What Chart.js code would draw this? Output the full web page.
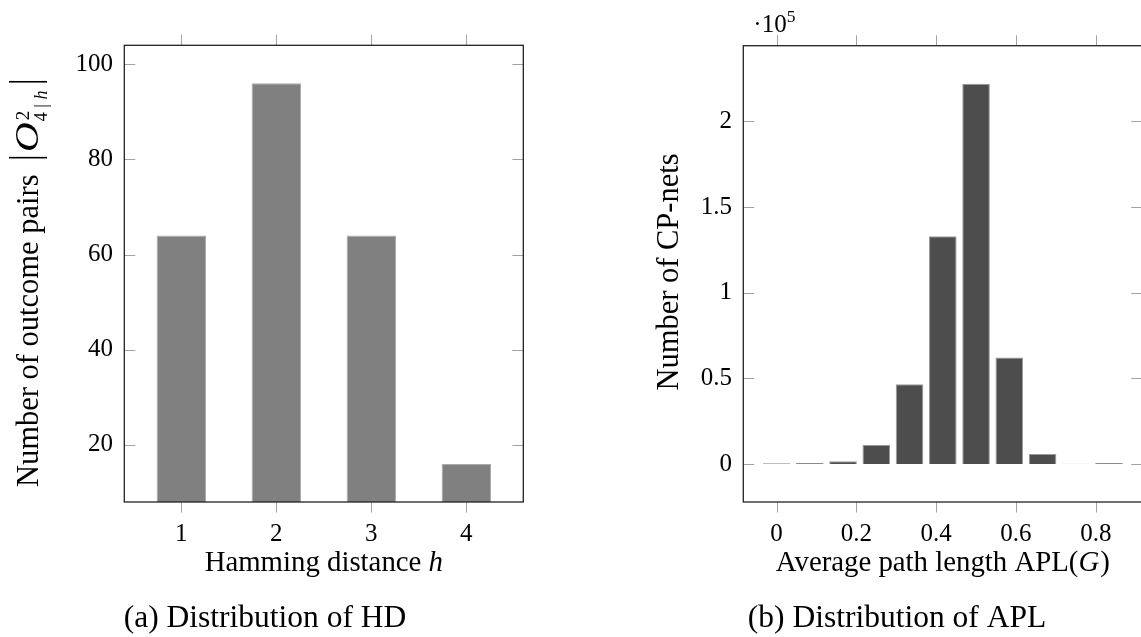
<!DOCTYPE html>
<html>
<head>
<meta charset="utf-8">
<script src="https://cdn.jsdelivr.net/npm/chart.js@4.4.1/dist/chart.umd.min.js"></script>
<style>
  html, body { margin: 0; padding: 0; overflow: hidden; background: #fff; width: 1141px; height: 637px; }
  canvas { position: absolute; top: 0; }
  #hdChart { left: 0; }
  #aplChart { left: 570px; }
</style>
</head>
<body>
<canvas id="hdChart" width="570" height="637"></canvas>
<canvas id="aplChart" width="600" height="637"></canvas>
<script>
// (a) distribution of the Hamming distance
const hdDistances = [1, 2, 3, 4]
const hdPairs = [64, 96, 64, 16]
const hdTicksX = [1, 2, 3, 4]
const hdTicksY = [20, 40, 60, 80, 100]

// (b) distribution of the average path length
const aplBins = [0, 0.0833, 0.1667, 0.25, 0.3333, 0.4167, 0.5, 0.5833, 0.6667, 0.75, 0.8333]
const aplNets = [400, 600, 1600, 11100, 46600, 133000, 222000, 62200, 5800, 150, 500]
const aplTicksX = [0, 0.2, 0.4, 0.6, 0.8]
const aplTickLabelsX = ['0', '0.2', '0.4', '0.6', '0.8']
const aplTicksY = [0, 50000, 100000, 150000, 200000]
const aplTickLabelsY = ['0', '0.5', '1', '1.5', '2']

const SERIF = '"Liberation Serif", "Times New Roman", serif'
const TICK_COLOR = '#a3a3a3'
const FRAME_COLOR = '#222'

// draw pieces of text one after the other (roman / italic / raised)
function drawRuns(ctx, runs, x, y, align) {
    let total = 0
    runs.forEach(r => { ctx.font = r.font; total += ctx.measureText(r.text).width + (r.gap || 0) })
    let cx = align == 'center' ? x - total / 2 : x
    runs.forEach(r => {
        ctx.font = r.font
        ctx.fillText(r.text, cx, y + (r.dy || 0))
        cx += ctx.measureText(r.text).width + (r.gap || 0)
    })
    return cx
}

// box round the plot + the little ticks (x outside, y inside)
const framePlugin = {
    id: 'frame',
    afterDatasetsDraw(chart, args, opts) {
        const { ctx, chartArea: a, scales: { x, y } } = chart
        ctx.save()
        ctx.strokeStyle = TICK_COLOR
        ctx.lineWidth = 1
        ctx.beginPath()
        x.ticks.forEach(t => {
            const px = Math.round(x.getPixelForValue(t.value)) + 0.5
            ctx.moveTo(px, a.bottom); ctx.lineTo(px, a.bottom + 10.5)
            ctx.moveTo(px, a.top); ctx.lineTo(px, a.top - 10.5)
        })
        y.ticks.forEach(t => {
            const py = Math.round(y.getPixelForValue(t.value)) + 0.5
            ctx.moveTo(a.left, py); ctx.lineTo(a.left + 11, py)
            ctx.moveTo(a.right, py); ctx.lineTo(a.right - 11, py)
        })
        ctx.stroke()
        ctx.strokeStyle = FRAME_COLOR
        ctx.lineWidth = 1.3
        ctx.strokeRect(a.left, a.top, a.right - a.left, a.bottom - a.top)
        ctx.fillStyle = '#000'
        ctx.textBaseline = 'alphabetic'
        if (opts.draw) opts.draw(ctx, chart)
        ctx.restore()
    }
}

function baseOptions(o) {
    return {
        responsive: false,
        animation: false,
        layout: { padding: { left: 0, top: o.top, right: o.right, bottom: 0 } },
        plugins: { legend: { display: false }, tooltip: { enabled: false }, frame: { draw: o.draw } },
        scales: {
            x: {
                type: 'linear', min: o.xMin, max: o.xMax, offset: false,
                grid: { display: false, drawTicks: false }, border: { display: false },
                afterBuildTicks: s => { s.ticks = o.xTicks.map(v => ({ value: v })) },
                afterFit: s => { s.height = 135 },
                ticks: { color: '#000', padding: 17.5, maxRotation: 0, autoSkip: false,
                    font: { family: SERIF, size: 25 }, callback: o.xLabel }
            },
            y: {
                min: o.yMin, max: o.yMax,
                grid: { display: false, drawTicks: false }, border: { display: false },
                afterBuildTicks: s => { s.ticks = o.yTicks.map(v => ({ value: v })) },
                afterFit: s => { s.width = o.left },
                ticks: { color: '#000', padding: 11.4, autoSkip: false,
                    font: { family: SERIF, size: 25 }, callback: o.yLabel }
            }
        }
    }
}

// ---- chart (a)
new Chart(document.getElementById('hdChart'), {
    type: 'bar',
    data: {
        datasets: [{
            data: hdDistances.map((d, i) => ({ x: d, y: hdPairs[i] })),
            backgroundColor: '#808080',
            borderColor: '#ababab',
            borderWidth: { top: 1, left: 1, right: 1, bottom: 0 },
            barPercentage: 0.52,
            categoryPercentage: 1
        }]
    },
    options: baseOptions({
        top: 45.3, right: 570 - 523.3, left: 124.3,
        xMin: 0.4, xMax: 4.6, xTicks: hdTicksX,
        yMin: 8, yMax: 104, yTicks: hdTicksY,
        xLabel: v => String(v), yLabel: v => String(v),
        draw(ctx) {
            // y label, rotated: Number of outcome pairs |O^2_{4|h}|
            ctx.save()
            ctx.translate(38, 487)
            ctx.rotate(-Math.PI / 2)
            ctx.font = '30.5px ' + SERIF
            ctx.fillText('Number of outcome pairs', 0, 0)
            let cx = ctx.measureText('Number of outcome pairs').width + 16
            ctx.fillRect(cx, -29, 1.6, 38)
            cx += 6.5
            // wide calligraphic-looking O
            ctx.save()
            ctx.translate(cx, 0)
            ctx.scale(1.25, 1)
            ctx.font = 'italic 33px ' + SERIF
            ctx.fillText('O', 0, 0)
            cx += ctx.measureText('O').width * 1.25 + 1
            ctx.restore()
            ctx.font = '19px ' + SERIF
            ctx.fillText('2', cx + 1, -9)
            cx = drawRuns(ctx, [
                { text: '4', font: '18px ' + SERIF, gap: 4.5 },
                { text: '|', font: '18px ' + SERIF, gap: 4.5 },
                { text: 'h', font: 'italic 18px ' + SERIF }
            ], cx, 9)
            ctx.fillRect(cx + 8, -29, 1.6, 38)
            ctx.restore()

            drawRuns(ctx, [
                { text: 'Hamming distance ', font: '28.8px ' + SERIF },
                { text: 'h', font: 'italic 28.8px ' + SERIF }
            ], 323.8, 571, 'center')
            drawRuns(ctx, [{ text: '(a) Distribution of HD', font: '31.5px ' + SERIF }], 265, 626.5, 'center')
        }
    }),
    plugins: [framePlugin]
})

// ---- chart (b), canvas starts at x=570 on the page
new Chart(document.getElementById('aplChart'), {
    type: 'bar',
    data: {
        datasets: [{
            data: aplBins.map((b, i) => ({ x: b, y: aplNets[i] })),
            backgroundColor: '#4d4d4d',
            borderColor: '#9a9a9a',
            borderWidth: { top: 1, left: 1, right: 1, bottom: 0 },
            barPercentage: 0.83,
            categoryPercentage: 1
        }]
    },
    options: baseOptions({
        top: 45.7, right: 600 - 572.3, left: 173.3,
        xMin: -1 / 12, xMax: 11 / 12, xTicks: aplTicksX,
        yMin: -22200, yMax: 244200, yTicks: aplTicksY,
        xLabel: v => aplTickLabelsX[aplTicksX.indexOf(v)],
        yLabel: v => aplTickLabelsY[aplTicksY.indexOf(v)],
        draw(ctx) {
            ctx.save()
            ctx.translate(107.5, 272)
            ctx.rotate(-Math.PI / 2)
            ctx.textAlign = 'center'
            ctx.font = '30.5px ' + SERIF
            ctx.fillText('Number of CP-nets', 0, 0)
            ctx.restore()

            // axis multiplier
            drawRuns(ctx, [
                { text: '·10', font: '25px ' + SERIF },
                { text: '5', font: '17.5px ' + SERIF, dy: -10 }
            ], 183.3, 31.5)

            drawRuns(ctx, [
                { text: 'Average path length APL(', font: '28.8px ' + SERIF },
                { text: 'G', font: 'italic 28.8px ' + SERIF, gap: 1 },
                { text: ')', font: '28.8px ' + SERIF }
            ], 372.8, 571, 'center')
            drawRuns(ctx, [{ text: '(b) Distribution of APL', font: '31.5px ' + SERIF }], 327, 626.5, 'center')
        }
    }),
    plugins: [framePlugin]
})
</script>
</body>
</html>
